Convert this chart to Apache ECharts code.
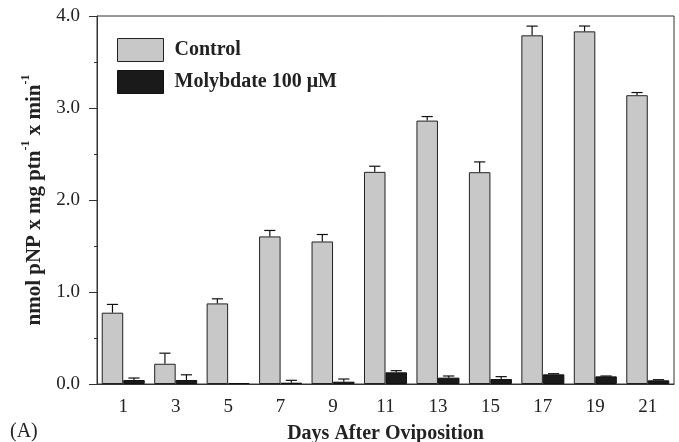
<!DOCTYPE html>
<html>
<head>
<meta charset="utf-8">
<script src="https://cdn.jsdelivr.net/npm/echarts@6/dist/echarts.min.js"></script>
<style>html,body{margin:0;padding:0;background:#fff}#c{width:679px;height:442px}</style>
</head>
<body>
<div id="c"></div>
<script>
const days = ['1','3','5','7','9','11','13','15','17','19','21'];
const control = [0.775, 0.22, 0.876, 1.604, 1.549, 2.306, 2.863, 2.302, 3.79, 3.833, 3.139];
const controlErr = [0.09, 0.115, 0.05, 0.065, 0.076, 0.061, 0.044, 0.112, 0.10, 0.058, 0.029];
const molybdate = [0.043, 0.043, 0.011, 0.014, 0.025, 0.127, 0.069, 0.054, 0.105, 0.083, 0.04];
const molybdateErr = [0.022, 0.057, 0, 0.026, 0.029, 0.018, 0.018, 0.026, 0.007, 0.004, 0.007];
const yTicks = ['0.0','1.0','2.0','3.0','4.0'];

const FONT = '"Liberation Serif", "DejaVu Serif", serif';
const GAP = 0.18;

function errSeries(vals, errs, side) {
  return {
    type: 'custom',
    silent: true,
    z: 5,
    data: vals.map((v, i) => [i, v, errs[i]]),
    encode: { x: 0, y: 1 },
    renderItem: function (params, api) {
      const i = api.value(0), v = api.value(1), e = api.value(2);
      const band = api.size([1, 0])[0];
      const bw = band * (1 - GAP) / 2;
      const c = api.coord([i, v]);
      const t = api.coord([i, v + e]);
      const x = c[0] + side * bw / 2;
      const cap = bw * 0.26;
      if (e <= 0) return { type: 'group', children: [] };
      return {
        type: 'group',
        children: [
          { type: 'line', shape: { x1: x, y1: c[1], x2: x, y2: t[1] }, style: { stroke: '#111', lineWidth: 1.2 } },
          { type: 'line', shape: { x1: x - cap, y1: t[1], x2: x + cap, y2: t[1] }, style: { stroke: '#111', lineWidth: 1.2 } }
        ]
      };
    }
  };
}

const chart = echarts.init(document.getElementById('c'), null, { renderer: 'canvas' });
chart.setOption({
  animation: false,
  backgroundColor: '#fff',
  grid: { left: 97, right: 5, top: 16, bottom: 58, outerBoundsMode: 'none', show: true, borderColor: '#333', borderWidth: 1, backgroundColor: 'transparent', containLabel: false },
  legend: {
    left: 117, top: 38, orient: 'vertical', padding: 0,
    itemWidth: 46, itemHeight: 23, itemGap: 8,
    textStyle: { fontFamily: FONT, fontWeight: 'bold', fontSize: 20, color: '#222', padding: [0, 0, 0, 6] },
    data: [
      { name: 'Control', icon: 'rect', itemStyle: { color: '#c8c8c8', borderColor: '#222', borderWidth: 1 } },
      { name: 'Molybdate 100 μM', icon: 'rect', itemStyle: { color: '#1a1a1a', borderColor: '#111', borderWidth: 1 } }
    ]
  },
  xAxis: {
    type: 'category',
    data: days,
    name: 'Days After Oviposition',
    nameLocation: 'middle',
    nameGap: 40,
    nameTextStyle: { fontFamily: FONT, fontWeight: 'bold', fontSize: 20, color: '#222' },
    axisLine: { lineStyle: { color: '#333', width: 1 } },
    axisTick: { alignWithLabel: true, length: 4, lineStyle: { color: '#333' }, inside: false },
    axisLabel: { fontFamily: FONT, fontSize: 19, color: '#222', margin: 14 },
    splitLine: { show: false }
  },
  yAxis: {
    type: 'value',
    min: 0, max: 4, interval: 1,
    name: '{a|nmol pNP x mg ptn}{s|-1}{a| x min}{s|-1}',
    nameLocation: 'middle',
    nameGap: 50,
    nameRotate: 90,
    nameTextStyle: {
      rich: {
        a: { fontFamily: FONT, fontWeight: 'bold', fontSize: 21, color: '#222', verticalAlign: 'bottom', lineHeight: 25 },
        s: { fontFamily: FONT, fontWeight: 'bold', fontSize: 12, color: '#222', verticalAlign: 'top', lineHeight: 25 }
      }
    },
    axisLine: { show: true, lineStyle: { color: '#333', width: 1 } },
    axisTick: { show: true, length: 8, lineStyle: { color: '#333' } },
    minorTick: { show: true, splitNumber: 2, length: 3, lineStyle: { color: '#333' } },
    axisLabel: { fontFamily: FONT, fontSize: 19, color: '#222', margin: 17, formatter: function (v) { return yTicks[Math.round(v)]; } },
    splitLine: { show: false }
  },
  series: [
    { name: 'Control', type: 'bar', data: control, barGap: '0%', barCategoryGap: (GAP * 100) + '%',
      itemStyle: { color: '#c8c8c8', borderColor: '#222', borderWidth: 1 } },
    { name: 'Molybdate 100 μM', type: 'bar', data: molybdate, barGap: '0%', barCategoryGap: (GAP * 100) + '%',
      itemStyle: { color: '#1a1a1a', borderColor: '#111', borderWidth: 1 } },
    errSeries(control, controlErr, -1),
    errSeries(molybdate, molybdateErr, 1)
  ],
  graphic: [
    { type: 'text', left: 10, top: 422, style: { text: '(A)', fontFamily: FONT, fontSize: 20, fill: '#222' } }
  ]
});
</script>
</body>
</html>
